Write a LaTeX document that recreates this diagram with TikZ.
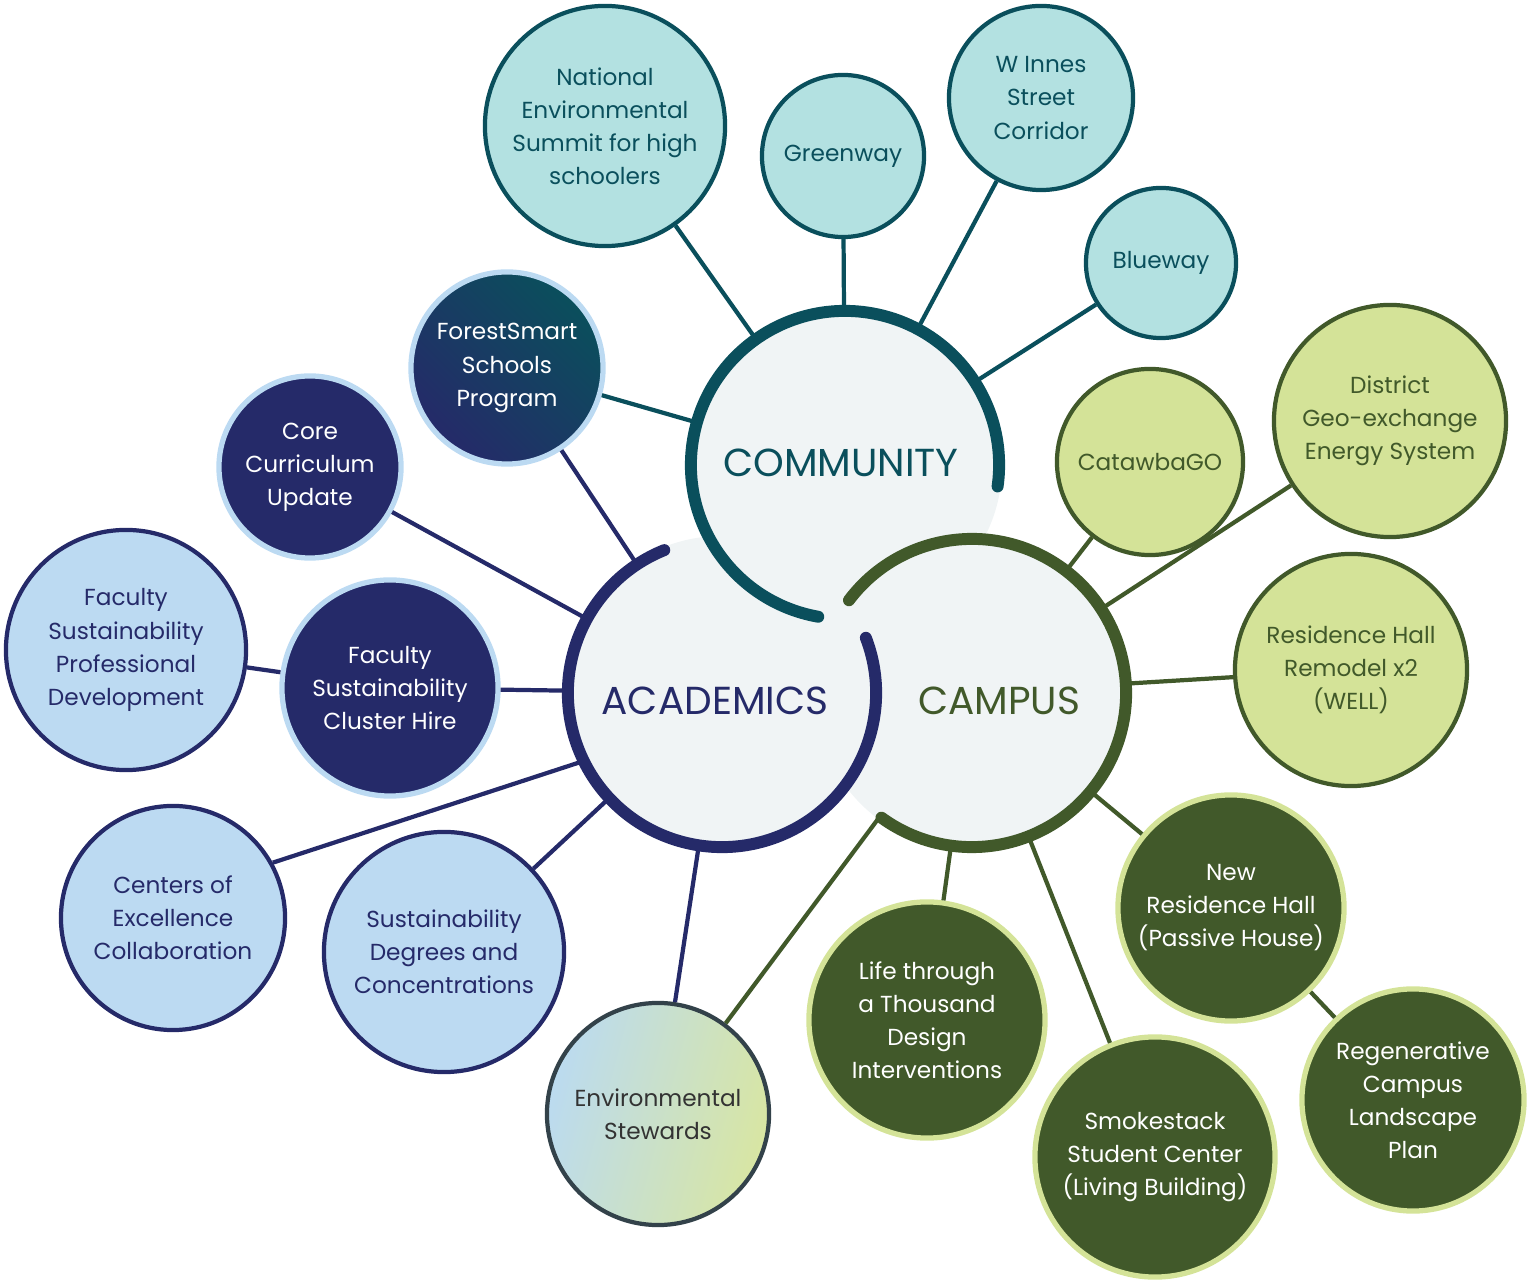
\documentclass[tikz,border=0pt]{standalone}
\usepackage{fontspec}
\setmainfont{Poppins}
\usetikzlibrary{positioning}
\definecolor{tealdk}{HTML}{0A4F5C}
\definecolor{teallt}{HTML}{B3E1E1}
\definecolor{navydk}{HTML}{252A69}
\definecolor{bluelt}{HTML}{BCDAF2}
\definecolor{greendk}{HTML}{41592A}
\definecolor{greenlt}{HTML}{D4E398}
\definecolor{hubfill}{HTML}{F0F4F5}
\tikzset{
    satnode/.style = {circle, line width=1.2pt, align=center, inner sep=0pt, font=\fontsize{6.6}{9.4}\selectfont},
    nodet/.style = {satnode, draw=tealdk, fill=teallt, text=tealdk},
    nodeb/.style = {satnode, draw=navydk, fill=bluelt, text=navydk},
    nodebd/.style = {satnode, draw=bluelt, fill=navydk, text=white, line width=1.5pt},
    nodeg/.style = {satnode, draw=greendk, fill=greenlt, text=greendk},
    nodegd/.style = {satnode, draw=greenlt, fill=greendk, text=white, line width=1.5pt},
    hubnode/.style = {circle, fill=hubfill, minimum size=3.14cm, inner sep=0pt},
    hublabel/.style = {inner sep=0pt, font=\fontsize{11.1}{13}\selectfont},
    arcn/.style = {line width=3.4pt, line cap=round},
    edget/.style = {-, line width=1.2pt, tealdk},
    edgeb/.style = {-, line width=1.2pt, navydk},
    edgeg/.style = {-, line width=1.2pt, greendk},
}

\begin{document}
\begin{tikzpicture}[x=0.01cm, y=-0.01cm]
\path[use as bounding box] (0,0) rectangle (1530,1283);
% hubs
\node[hubnode] at (845,465) (com) {};
\node[hubnode] at (722,693) (aca) {};
\node[hubnode] at (972,693) (cam) {};
\draw[arcn, tealdk] (com.center) ++(-8:1.54cm) arc[start angle=-8, end angle=260, radius=1.54cm];
\draw[arcn, navydk] (aca.center) ++(112:1.54cm) arc[start angle=112, end angle=381, radius=1.54cm];
\draw[arcn, greendk] (cam.center) ++(234:1.54cm) arc[start angle=234, end angle=503, radius=1.54cm];
\node[hublabel, text=tealdk] at (841,463) (comtext) {COMMUNITY};
\node[hublabel, text=navydk] at (715,701) (acatext) {ACADEMICS};
\node[hublabel, text=greendk] at (999,701) (camtext) {CAMPUS};
%
% community
\node[nodet, minimum size=2.40cm] at (605,126) (summit) {National\\Environmental\\Summit for high\\schoolers};
\node[nodet, minimum size=1.62cm] at (843,156) (greenway) {Greenway};
\node[nodet, minimum size=1.84cm] at (1041,98) (innes) {W Innes\\Street\\Corridor};
\node[nodet, minimum size=1.50cm] at (1161,263) (blueway) {Blueway};
\node[nodebd, minimum size=1.92cm, top color=tealdk, bottom color=navydk, shading angle=-45] at (507,368) (forest) {ForestSmart\\Schools\\Program};
%
% academics
\node[nodebd, minimum size=1.82cm] at (310,467) (core) {Core\\Curriculum\\Update};
\node[nodebd, minimum size=2.16cm] at (390,688) (cluster) {Faculty\\Sustainability\\Cluster Hire};
\node[nodeb, minimum size=2.40cm] at (126,650) (profdev) {Faculty\\Sustainability\\Professional\\Development};
\node[nodeb, minimum size=2.24cm] at (173,918) (centers) {Centers of\\Excellence\\Collaboration};
\node[nodeb, minimum size=2.40cm] at (444,952) (degrees) {Sustainability\\Degrees and\\Concentrations};
\node[satnode, minimum size=2.22cm, draw=navydk!50!greendk, left color=bluelt!90!teallt, right color=greenlt!90!white, shading angle=75, text=black!80] at (658,1114) (stewards) {Environmental\\Stewards};
%
% campus
\node[nodeg, minimum size=1.86cm] at (1150,462) (catawba) {CatawbaGO};
\node[nodeg, minimum size=2.32cm] at (1390,421) (district) {District\\Geo-exchange\\Energy System};
\node[nodeg, minimum size=2.32cm] at (1351,670) (remodel) {Residence Hall\\Remodel x2\\(WELL)};
\node[nodegd, minimum size=2.26cm] at (1231,908) (newres) {New\\Residence Hall\\(Passive House)};
\node[nodegd, minimum size=2.22cm] at (1413,1100) (regen) {Regenerative\\Campus\\Landscape\\Plan};
\node[nodegd, minimum size=2.40cm] at (1155,1157) (smoke) {Smokestack\\Student Center\\(Living Building)};
\node[nodegd, minimum size=2.36cm] at (927,1020) (life) {Life through\\a Thousand\\Design\\Interventions};
%
\draw[edget] (summit) -- (com);
\draw[edget] (greenway) -- (com);
\draw[edget] (innes) -- (com);
\draw[edget] (blueway) -- (com);
\draw[edget] (forest) -- (com);
\draw[edgeb] (forest) -- (aca);
\draw[edgeb] (core) -- (aca);
\draw[edgeb] (cluster) -- (aca);
\draw[edgeb] (profdev) -- (cluster);
\draw[edgeb] (centers.29) -- (aca.206);
\draw[edgeb] (degrees) -- (aca);
\draw[edgeb] (stewards) -- (aca);
\draw[edgeg] (stewards) -- (cam);
\draw[edgeg] (catawba) -- (cam);
\draw[edgeg] (district) -- (cam);
\draw[edgeg] (remodel) -- (cam);
\draw[edgeg] (newres) -- (cam);
\draw[edgeg] (regen) -- (newres);
\draw[edgeg] (smoke) -- (cam);
\draw[edgeg] (life) -- (cam);
\end{tikzpicture}
\end{document}
